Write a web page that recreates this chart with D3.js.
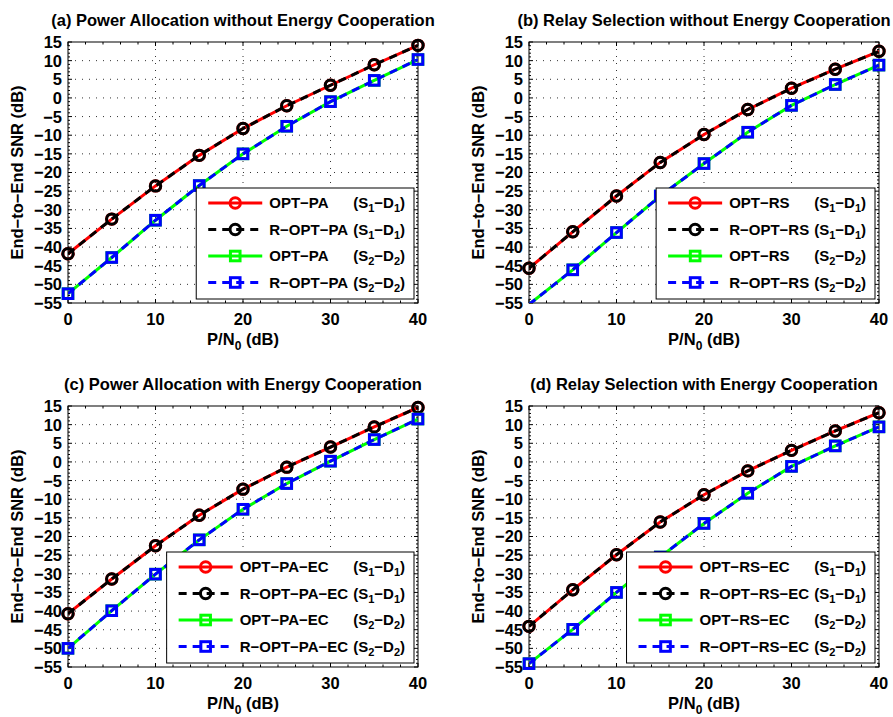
<!DOCTYPE html>
<html>
<head>
<meta charset="utf-8">
<script src="https://cdn.jsdelivr.net/npm/d3@7"></script>
<style>
  body { margin: 0; background: #fff; }
  svg text { font-family: "Liberation Sans", Arial, sans-serif; font-weight: bold; fill: #000; }
</style>
</head>
<body>
<div id="chart"></div>
<script>
// x values (P/N0 in dB) and tick labels
const powerLevels = [0, 5, 10, 15, 20, 25, 30, 35, 40];
const xTickValues = [0, 10, 20, 30, 40];
const yTickValues = [15, 10, 5, 0, -5, -10, -15, -20, -25, -30, -35, -40, -45, -50, -55];

// (a) Power allocation without energy cooperation
const optPaS1 = [-41.8, -32.5, -23.6, -15.4, -8.2, -2.1, 3.4, 8.9, 14.1];
const roptPaS1 = [-41.8, -32.5, -23.6, -15.4, -8.2, -2.1, 3.4, 8.9, 14.1];
const optPaS2 = [-52.5, -42.8, -32.8, -23.5, -15.0, -7.6, -1.0, 4.7, 10.3];
const roptPaS2 = [-52.5, -42.8, -32.8, -23.5, -15.0, -7.6, -1.0, 4.7, 10.3];

// (b) Relay selection without energy cooperation
const optRsS1 = [-45.7, -35.9, -26.3, -17.3, -9.8, -3.1, 2.6, 7.7, 12.5];
const roptRsS1 = [-45.7, -35.9, -26.3, -17.3, -9.8, -3.1, 2.6, 7.7, 12.5];
const optRsS2 = [-55.4, -46.1, -36.1, -26.3, -17.6, -9.2, -2.0, 3.6, 8.8];
const roptRsS2 = [-55.4, -46.1, -36.1, -26.3, -17.6, -9.2, -2.0, 3.6, 8.8];

// (c) Power allocation with energy cooperation
const optPaEcS1 = [-40.7, -31.4, -22.5, -14.3, -7.3, -1.4, 4.0, 9.4, 14.6];
const roptPaEcS1 = [-40.7, -31.4, -22.5, -14.3, -7.3, -1.4, 4.0, 9.4, 14.6];
const optPaEcS2 = [-50.0, -39.9, -30.1, -20.9, -12.7, -5.8, 0.2, 6.0, 11.5];
const roptPaEcS2 = [-50.0, -39.9, -30.1, -20.9, -12.7, -5.8, 0.2, 6.0, 11.5];

// (d) Relay selection with energy cooperation
const optRsEcS1 = [-44.1, -34.3, -24.9, -16.1, -8.8, -2.4, 3.1, 8.3, 13.2];
const roptRsEcS1 = [-44.1, -34.3, -24.9, -16.1, -8.8, -2.4, 3.1, 8.3, 13.2];
const optRsEcS2 = [-54.1, -44.9, -35.0, -25.5, -16.5, -8.4, -1.2, 4.3, 9.4];
const roptRsEcS2 = [-54.1, -44.9, -35.0, -25.5, -16.5, -8.4, -1.2, 4.3, 9.4];

// Series styles (same for every panel)
const seriesStyles = [
  { color: "#ff0000", dash: null, marker: "circle", width: 3 },
  { color: "#000000", dash: "8,6", marker: "circle", width: 3 },
  { color: "#00ff00", dash: null, marker: "square", width: 3 },
  { color: "#0000ff", dash: "8,6", marker: "square", width: 3 }
];

const panels = [
  { title: "(a) Power Allocation without Energy Cooperation", name: "OPT\u2212PA",
    series: [optPaS1, roptPaS1, optPaS2, roptPaS2], left: 68, top: 42 },
  { title: "(b) Relay Selection without Energy Cooperation", name: "OPT\u2212RS",
    series: [optRsS1, roptRsS1, optRsS2, roptRsS2], left: 529, top: 42 },
  { title: "(c) Power Allocation with Energy Cooperation", name: "OPT\u2212PA\u2212EC",
    series: [optPaEcS1, roptPaEcS1, optPaEcS2, roptPaEcS2], left: 68, top: 406 },
  { title: "(d) Relay Selection with Energy Cooperation", name: "OPT\u2212RS\u2212EC",
    series: [optRsEcS1, roptRsEcS1, optRsEcS2, roptRsEcS2], left: 529, top: 406 }
];

const width = 350;
const height = 261;

const svg = d3.select("#chart")
  .append("svg")
  .attr("width", 893)
  .attr("height", 717);

svg.append("rect").attr("width", 893).attr("height", 717).attr("fill", "#fff");

const x = d3.scaleLinear().domain([0, 40]).range([0, width]);
const y = d3.scaleLinear().domain([-55, 15]).range([height, 0]);

// draw a marker (circle or square) at a point
function drawMarker(g, type, cx, cy, color) {
  if (type === "circle") {
    g.append("circle")
      .attr("cx", cx).attr("cy", cy).attr("r", 5.2)
      .attr("fill", "none").attr("stroke", color).attr("stroke-width", 3);
  } else {
    g.append("rect")
      .attr("x", cx - 4.8).attr("y", cy - 4.8)
      .attr("width", 9.6).attr("height", 9.6)
      .attr("fill", "none").attr("stroke", color).attr("stroke-width", 3);
  }
}

// text with (S_i-D_i) subscripts
function addPairLabel(textSel, i) {
  textSel.append("tspan").text("(S");
  textSel.append("tspan").attr("dy", 4).attr("font-size", 11).text(i);
  textSel.append("tspan").attr("dy", -4).text("\u2212D");
  textSel.append("tspan").attr("dy", 4).attr("font-size", 11).text(i);
  textSel.append("tspan").attr("dy", -4).text(")");
}

panels.forEach((panel, pi) => {
  const g = svg.append("g").attr("transform", `translate(${panel.left},${panel.top})`);

  // clip for the data lines
  const clipId = "clip" + pi;
  g.append("clipPath").attr("id", clipId)
    .append("rect").attr("width", width).attr("height", height);

  // Dotted grid
  const grid = g.append("g").attr("class", "grid");
  grid.selectAll(".vgrid")
    .data(xTickValues.filter((d) => d > 0 && d < 40))
    .enter().append("line")
    .attr("x1", (d) => x(d)).attr("x2", (d) => x(d))
    .attr("y1", 0).attr("y2", height)
    .attr("stroke", "#333").attr("stroke-width", 1)
    .attr("stroke-dasharray", "1,6");
  grid.selectAll(".hgrid")
    .data(yTickValues.filter((d) => d > -55 && d < 15))
    .enter().append("line")
    .attr("x1", 0).attr("x2", width)
    .attr("y1", (d) => y(d)).attr("y2", (d) => y(d))
    .attr("stroke", "#333").attr("stroke-width", 1)
    .attr("stroke-dasharray", "1,6");

  // Minor and major ticks (inside, on all four sides)
  const ticks = g.append("g").attr("stroke", "#000").attr("stroke-width", 1);
  d3.range(0, 41, 2).forEach((v) => {
    const len = v % 10 === 0 ? 4 : 2.5;
    ticks.append("line").attr("x1", x(v)).attr("x2", x(v)).attr("y1", height).attr("y2", height - len);
    ticks.append("line").attr("x1", x(v)).attr("x2", x(v)).attr("y1", 0).attr("y2", len);
  });
  d3.range(-55, 16, 1).forEach((v) => {
    const len = v % 5 === 0 ? 4 : 2;
    ticks.append("line").attr("y1", y(v)).attr("y2", y(v)).attr("x1", 0).attr("x2", len);
    ticks.append("line").attr("y1", y(v)).attr("y2", y(v)).attr("x1", width).attr("x2", width - len);
  });

  // Axes box
  g.append("rect")
    .attr("width", width).attr("height", height)
    .attr("fill", "none").attr("stroke", "#000").attr("stroke-width", 1);

  // Data lines (clipped) and markers (drawn whole if inside limits)
  const lineGen = d3.line().x((d, i) => x(powerLevels[i])).y((d) => y(d));
  panel.series.forEach((values, si) => {
    const st = seriesStyles[si];
    g.append("path")
      .datum(values)
      .attr("clip-path", `url(#${clipId})`)
      .attr("fill", "none")
      .attr("stroke", st.color)
      .attr("stroke-width", st.width)
      .attr("stroke-dasharray", st.dash)
      .attr("d", lineGen);
    values.forEach((v, i) => {
      if (v >= -55 && v <= 15) drawMarker(g, st.marker, x(powerLevels[i]), y(v), st.color);
    });
  });

  // Tick labels
  g.selectAll(".xlab")
    .data(xTickValues).enter().append("text")
    .attr("x", (d) => x(d)).attr("y", height + 22)
    .attr("text-anchor", "middle").attr("font-size", 16.5)
    .text((d) => d);
  g.selectAll(".ylab")
    .data(yTickValues).enter().append("text")
    .attr("x", -6).attr("y", (d) => y(d)).attr("dy", "0.36em")
    .attr("text-anchor", "end").attr("font-size", 16.5)
    .text((d) => (d < 0 ? "\u2212" + Math.abs(d) : d));

  // Title
  g.append("text")
    .attr("x", width / 2).attr("y", -16)
    .attr("text-anchor", "middle").attr("font-size", 16.5)
    .text(panel.title);

  // X label with subscript
  const xl = g.append("text")
    .attr("x", width / 2).attr("y", height + 42)
    .attr("text-anchor", "middle").attr("font-size", 16.5);
  xl.append("tspan").text("P/N");
  xl.append("tspan").attr("dy", 5).attr("font-size", 12).text("0");
  xl.append("tspan").attr("dy", -5).text(" (dB)");

  // Y label
  g.append("text")
    .attr("transform", `translate(-45,${height / 2}) rotate(-90)`)
    .attr("text-anchor", "middle").attr("font-size", 16.5)
    .text("End\u2212to\u2212End SNR (dB)");

  // Legend
  const legend = g.append("g");
  const labels = [panel.name, "R\u2212" + panel.name, panel.name, "R\u2212" + panel.name];
  const textX = 73;
  // measure longest name to place the (S-D) column
  const probe = legend.append("text").attr("font-size", 15).text("R\u2212" + panel.name);
  const nameWidth = probe.node().getComputedTextLength();
  probe.remove();
  const pairX = textX + nameWidth + 5;

  const box = legend.append("rect").attr("fill", "#fff").attr("stroke", "#000").attr("stroke-width", 1);
  let maxRight = 0;
  labels.forEach((lab, i) => {
    const st = seriesStyles[i];
    const ry = 15 + i * 26.5;
    legend.append("line")
      .attr("x1", 12).attr("x2", 66).attr("y1", ry).attr("y2", ry)
      .attr("stroke", st.color).attr("stroke-width", st.width)
      .attr("stroke-dasharray", st.dash);
    drawMarker(legend, st.marker, 39, ry, st.color);
    legend.append("text")
      .attr("x", textX).attr("y", ry).attr("dy", "0.36em")
      .attr("font-size", 15).text(lab);
    const pt = legend.append("text")
      .attr("x", pairX).attr("y", ry).attr("dy", "0.36em")
      .attr("font-size", 15);
    addPairLabel(pt, i < 2 ? 1 : 2);
    maxRight = Math.max(maxRight, pairX + pt.node().getComputedTextLength());
  });
  const boxW = maxRight + 9;
  const boxH = 111;
  box.attr("width", boxW).attr("height", boxH);
  legend.attr("transform", `translate(${width - 4 - boxW},${height - 4 - boxH})`);
});
</script>
</body>
</html>
